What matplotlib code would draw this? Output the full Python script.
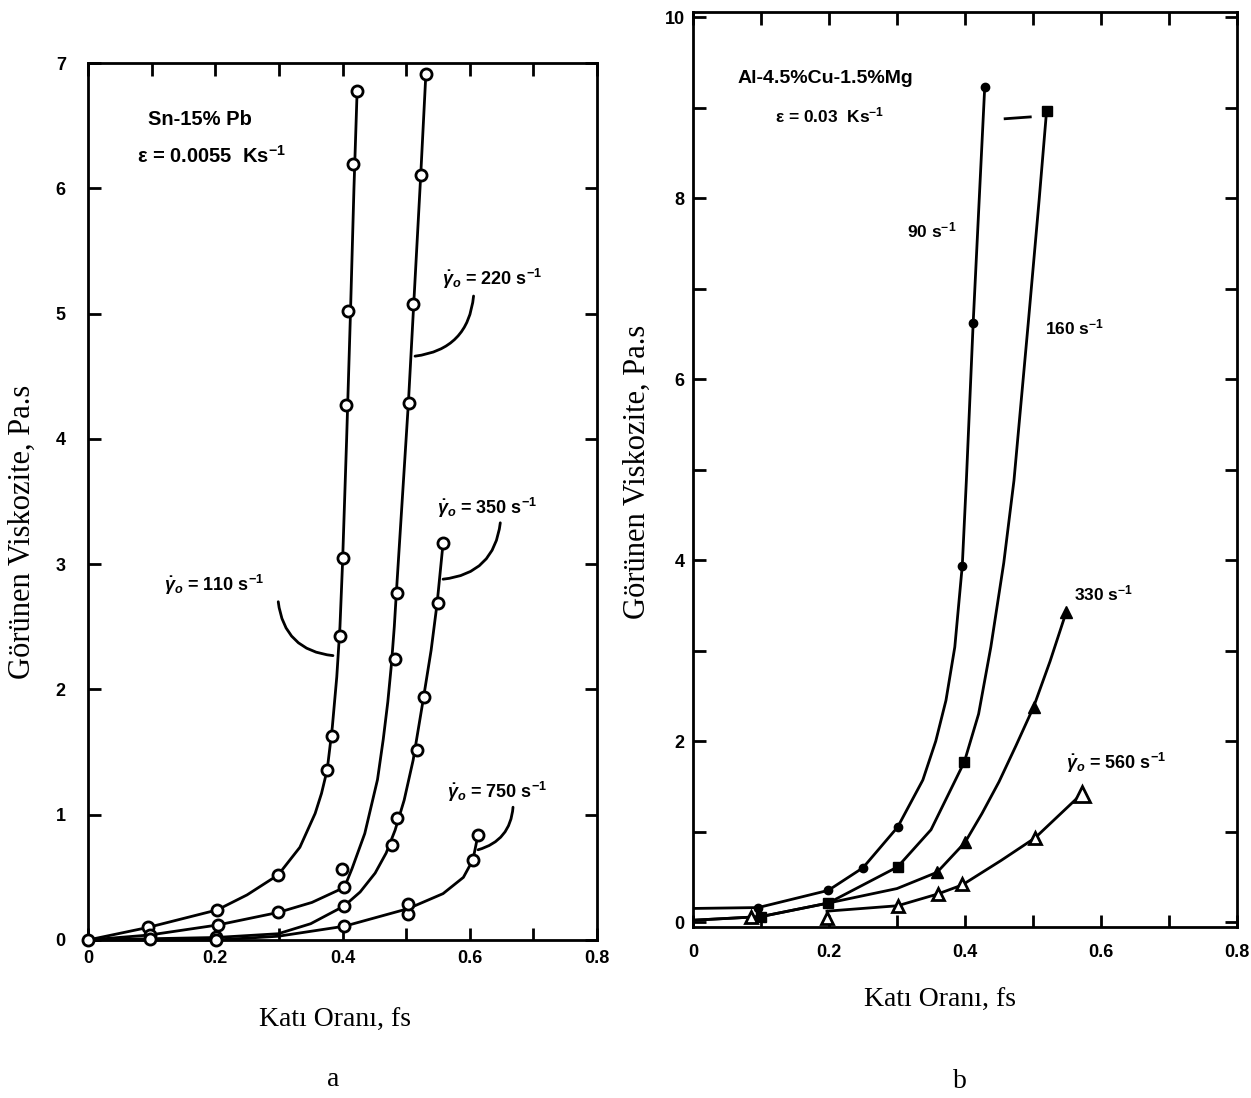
import matplotlib
matplotlib.use("Agg")
import matplotlib.pyplot as plt
from matplotlib.ticker import MultipleLocator, FixedLocator, FixedFormatter

plt.rcParams["mathtext.fontset"] = "custom"
plt.rcParams["mathtext.rm"] = "Liberation Sans:bold"
plt.rcParams["mathtext.it"] = "Liberation Sans:italic:bold"
plt.rcParams["mathtext.bf"] = "Liberation Sans:bold"

# ---------------- data: panel a (Sn-15%Pb) ----------------
a110_mx = [0.0, 0.094, 0.203, 0.299, 0.376, 0.384, 0.396, 0.401, 0.406, 0.409, 0.417, 0.423]
a110_my = [0.0, 0.10, 0.24, 0.52, 1.36, 1.63, 2.43, 3.05, 4.27, 5.02, 6.19, 6.78]
a110_lx = [0.0, 0.094, 0.203, 0.25, 0.299, 0.333, 0.357, 0.367, 0.376, 0.384, 0.391, 0.396, 0.400, 0.4065, 0.4125, 0.418, 0.423]
a110_ly = [0.0, 0.10, 0.24, 0.36, 0.52, 0.74, 1.01, 1.17, 1.36, 1.70, 2.10, 2.50, 3.00, 4.00, 5.00, 6.00, 6.78]

a220_mx = [0.097, 0.204, 0.299, 0.403, 0.399, 0.483, 0.486, 0.505, 0.511, 0.524, 0.531]
a220_my = [0.04, 0.12, 0.22, 0.42, 0.57, 2.24, 2.77, 4.29, 5.08, 6.11, 6.91]
a220_lx = [0.0, 0.097, 0.204, 0.299, 0.352, 0.403, 0.415, 0.435, 0.455, 0.464, 0.4712, 0.4769, 0.4814, 0.485, 0.5036, 0.512, 0.523, 0.531]
a220_ly = [0.0, 0.04, 0.12, 0.22, 0.30, 0.42, 0.57, 0.85, 1.28, 1.60, 1.90, 2.20, 2.50, 2.80, 4.29, 5.08, 6.11, 6.91]

a350_mx = [0.201, 0.403, 0.478, 0.486, 0.517, 0.528, 0.550, 0.558]
a350_my = [0.02, 0.27, 0.76, 0.97, 1.52, 1.94, 2.69, 3.17]
a350_lx = [0.0, 0.097, 0.201, 0.299, 0.35, 0.4025, 0.4277, 0.4513, 0.4686, 0.4827, 0.4969, 0.511, 0.5267, 0.5393, 0.5487, 0.5582]
a350_ly = [0.0, 0.01, 0.02, 0.05, 0.13, 0.271, 0.383, 0.534, 0.694, 0.877, 1.116, 1.435, 1.914, 2.313, 2.687, 3.174]

a750_mx = [0.097, 0.201, 0.403, 0.503, 0.503, 0.605, 0.613]
a750_my = [0.01, 0.0, 0.11, 0.21, 0.29, 0.64, 0.84]
a750_lx = [0.0, 0.097, 0.201, 0.299, 0.403, 0.503, 0.558, 0.59, 0.605, 0.613]
a750_ly = [0.0, 0.0, 0.0, 0.03, 0.11, 0.25, 0.37, 0.50, 0.64, 0.84]

# ---------------- data: panel b (Al-4.5%Cu-1.5%Mg) ----------------
b90_mx = [0.096, 0.199, 0.25, 0.301, 0.396, 0.412, 0.429]
b90_my = [0.16, 0.35, 0.60, 1.05, 3.94, 6.62, 9.23]
b90_lx = [0.0, 0.096, 0.199, 0.25, 0.301, 0.338, 0.357, 0.372, 0.385, 0.396, 0.402, 0.412, 0.429]
b90_ly = [0.15, 0.16, 0.35, 0.60, 1.05, 1.57, 2.0, 2.45, 3.04, 3.94, 4.88, 6.62, 9.23]

b160_mx = [0.10, 0.199, 0.301, 0.399, 0.52]
b160_my = [0.06, 0.21, 0.61, 1.77, 8.97]
b160_lx = [0.0, 0.10, 0.199, 0.301, 0.35, 0.399, 0.42, 0.438, 0.457, 0.472, 0.493, 0.509, 0.52]
b160_ly = [0.02, 0.06, 0.21, 0.61, 1.02, 1.77, 2.3, 3.04, 3.97, 4.88, 6.62, 7.98, 8.97]

b330_mx = [0.359, 0.40, 0.501, 0.549]
b330_my = [0.55, 0.88, 2.38, 3.43]
b330_lx = [0.0, 0.10, 0.199, 0.30, 0.359, 0.40, 0.425, 0.45, 0.475, 0.501, 0.525, 0.549]
b330_ly = [0.02, 0.06, 0.21, 0.37, 0.55, 0.88, 1.2, 1.55, 1.95, 2.38, 2.88, 3.43]

b560_mx = [0.085, 0.197, 0.301, 0.36, 0.396, 0.503]
b560_my = [0.06, 0.04, 0.18, 0.31, 0.42, 0.93]
b560_end = [0.572, 1.42]
b560_lx = [0.197, 0.301, 0.36, 0.396, 0.453, 0.503, 0.572]
b560_ly = [0.12, 0.18, 0.31, 0.41, 0.68, 0.93, 1.42]

x_ticks = [0.0, 0.2, 0.4, 0.6, 0.8]
x_ticklabels = ["0", "0.2", "0.4", "0.6", "0.8"]
a_yticks = [0, 1, 2, 3, 4, 5, 6, 7]
b_yticks = [0, 2, 4, 6, 8, 10]

W, H = 1251, 1098
fig = plt.figure(figsize=(W / 100, H / 100), dpi=100)

SANS = "Liberation Sans"
SERIF = "Liberation Serif"


def style_axes(ax, ymajor, yminor):
    for s in ax.spines.values():
        s.set_linewidth(2.0)
    ax.xaxis.set_major_locator(FixedLocator(x_ticks))
    ax.xaxis.set_major_formatter(FixedFormatter(x_ticklabels))
    ax.xaxis.set_minor_locator(MultipleLocator(0.1))
    ax.yaxis.set_major_locator(FixedLocator(ymajor))
    ax.yaxis.set_minor_locator(MultipleLocator(yminor))
    ax.tick_params(which="both", direction="in", top=True, right=True,
                   length=9, width=2)
    for lab in ax.get_xticklabels() + ax.get_yticklabels():
        lab.set_fontfamily(SANS)
        lab.set_fontweight("bold")
        lab.set_fontsize(13)


# ---------------- panel a ----------------
axa = fig.add_axes([88 / W, 1 - 940 / H, (597 - 88) / W, (940 - 63) / H])
axa.set_xlim(0, 0.8)
axa.set_ylim(0, 7)
style_axes(axa, a_yticks, 1)
axa.tick_params(axis="x", pad=7)
axa.tick_params(axis="y", pad=16)

mk = dict(marker="o", ms=8, mfc="white", mec="black", mew=2, ls="none",
          clip_on=False, zorder=4)
for lx, ly, mx, my in [(a110_lx, a110_ly, a110_mx, a110_my),
                       (a220_lx, a220_ly, a220_mx, a220_my),
                       (a350_lx, a350_ly, a350_mx, a350_my),
                       (a750_lx, a750_ly, a750_mx, a750_my)]:
    axa.plot(lx, ly, color="black", lw=2.0, clip_on=False, zorder=3,
             solid_joinstyle="round")
    axa.plot(mx, my, **mk)

tk = dict(fontfamily=SANS, fontweight="bold", fontsize=14.5)
axa.text(0.094, 6.55, "Sn-15% Pb", ha="left", va="center", **tk)
axa.text(0.077, 6.26, "ε = 0.0055  Ks$^{-1}$", ha="left", va="center", **tk)

gam = r"$\dot{\gamma}_{o}$"
ann = dict(fontfamily=SANS, fontweight="bold", fontsize=13)
lk = dict(arrowstyle="-", color="black", lw=2.0, shrinkA=0, shrinkB=0)
axa.text(0.556, 5.28, gam + " = 220 s$^{-1}$", ha="left", va="center", **ann)
axa.annotate("", xy=(0.514, 4.66), xytext=(0.606, 5.14),
             arrowprops=dict(connectionstyle="arc3,rad=-0.4", **lk))
axa.text(0.548, 3.45, gam + " = 350 s$^{-1}$", ha="left", va="center", **ann)
axa.annotate("", xy=(0.558, 2.88), xytext=(0.648, 3.33),
             arrowprops=dict(connectionstyle="arc3,rad=-0.4", **lk))
axa.text(0.119, 2.83, gam + " = 110 s$^{-1}$", ha="left", va="center", **ann)
axa.annotate("", xy=(0.385, 2.27), xytext=(0.299, 2.70),
             arrowprops=dict(connectionstyle="arc3,rad=0.4", **lk))
axa.text(0.564, 1.18, gam + " = 750 s$^{-1}$", ha="left", va="center", **ann)
axa.annotate("", xy=(0.613, 0.72), xytext=(0.668, 1.06),
             arrowprops=dict(connectionstyle="arc3,rad=-0.35", **lk))

# ---------------- panel b ----------------
axb = fig.add_axes([693 / W, 1 - 927 / H, (1237 - 693) / W, (927 - 12) / H])
axb.set_xlim(0, 0.8)
axb.set_ylim(-0.055, 10.06)
style_axes(axb, b_yticks, 1)
axb.tick_params(axis="x", pad=12)
axb.tick_params(axis="y", pad=6)

lw = dict(color="black", lw=2.0, zorder=3, solid_joinstyle="round")
axb.plot(b90_lx, b90_ly, **lw)
axb.plot(b90_mx, b90_my, marker="o", ms=6, color="black", ls="none", zorder=4)
axb.plot(b160_lx, b160_ly, **lw)
axb.plot(b160_mx, b160_my, marker="s", ms=7, color="black", ls="none", zorder=4)
axb.plot(b330_lx, b330_ly, **lw)
axb.plot(b330_mx, b330_my, marker="^", ms=9, color="black", ls="none", zorder=4)
axb.plot(b560_lx, b560_ly, **lw)
axb.plot(b560_mx, b560_my, marker="^", ms=9, mfc="white", mec="black", mew=2,
         ls="none", zorder=4, clip_on=False)
axb.plot([b560_end[0]], [b560_end[1]], marker="^", ms=12, mfc="white", mec="black",
         mew=2, ls="none", zorder=4)
axb.plot([0.459, 0.496], [8.88, 8.90], color="black", lw=2.0)

axb.text(0.065, 9.33, "Al-4.5%Cu-1.5%Mg", ha="left", va="center",
         fontfamily=SANS, fontweight="bold", fontsize=14)
axb.text(0.12, 8.92, "ε = 0.03  Ks$^{-1}$", ha="left", va="center",
         fontfamily=SANS, fontweight="bold", fontsize=12.5)
small = dict(fontfamily=SANS, fontweight="bold", fontsize=12.5)
axb.text(0.315, 7.65, "90 s$^{-1}$", ha="left", va="center", **small)
axb.text(0.518, 6.57, "160 s$^{-1}$", ha="left", va="center", **small)
axb.text(0.560, 3.63, "330 s$^{-1}$", ha="left", va="center", **small)
axb.text(0.549, 1.76, gam + " = 560 s$^{-1}$", ha="left", va="center", **ann)

# ---------------- labels ----------------
ylab = dict(fontfamily=SERIF, fontsize=22)
lab = dict(fontfamily=SERIF, fontsize=20)
fig.text(22 / W, 1 - 532 / H, "Görünen Viskozite, Pa.s", rotation=90,
         ha="center", va="center", **ylab)
fig.text(637 / W, 1 - 472 / H, "Görünen Viskozite, Pa.s", rotation=90,
         ha="center", va="center", **ylab)
fig.text(335 / W, 1 - 1020 / H, "Katı Oranı, fs", ha="center", va="center", **lab)
fig.text(940 / W, 1 - 1000 / H, "Katı Oranı, fs", ha="center", va="center", **lab)
fig.text(333 / W, 1 - 1080 / H, "a", ha="center", va="center", **lab)
fig.text(960 / W, 1 - 1082 / H, "b", ha="center", va="center", **lab)

fig.savefig("out.png", dpi=100, facecolor="white")
